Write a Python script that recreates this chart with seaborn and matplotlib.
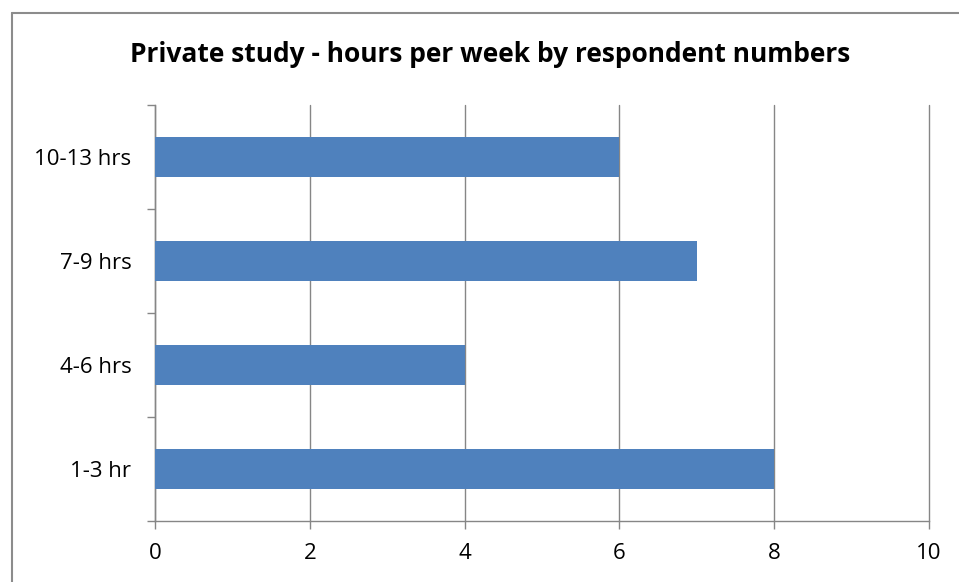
import matplotlib
matplotlib.use("Agg")
import matplotlib.pyplot as plt
import seaborn as sns
import pandas as pd
import numpy as np
from matplotlib.lines import Line2D

categories = ["10-13 hrs", "7-9 hrs", "4-6 hrs", "1-3 hr"]
values = [6, 7, 4, 8]
x_ticks = [0, 2, 4, 6, 8, 10]
title = "Private study - hours per week by respondent numbers"

sns.set_theme(style="white")
plt.rcParams['font.family'] = ['Open Sans', 'DejaVu Sans']

df = pd.DataFrame({"cat": categories, "val": values})

fig = plt.figure(figsize=(9.59, 5.82), dpi=100)
ax = fig.add_axes([155/959, 1-521/582, (929-155)/959, (521-105)/582])

grid_c = "#868686"
sns.barplot(data=df, x="val", y="cat", order=categories, color="#4F81BD",
            width=0.39, saturation=1, linewidth=0, ax=ax, zorder=3)
ax.set_xlim(0, 10)
ax.set_ylim(len(categories)-0.5, -0.5)
ax.set_xticks(x_ticks)
ax.set_xticklabels([str(t) for t in x_ticks])
ax.set_xlabel("")
ax.set_ylabel("")
ax.grid(axis="x", color=grid_c, linewidth=1, zorder=0)
for gl in ax.get_xgridlines():
    gl.set_clip_on(False)
ax.set_axisbelow(True)
for s in ["top", "right"]:
    ax.spines[s].set_visible(False)
for s in ["left", "bottom"]:
    ax.spines[s].set_color(grid_c)
    ax.spines[s].set_linewidth(1)

ax.set_yticks(np.arange(-0.5, len(categories), 1), minor=True)
ax.tick_params(axis="y", which="major", length=0, pad=17, labelsize=16, labelcolor="#000000")
ax.tick_params(axis="y", which="minor", length=6, color=grid_c, width=1, left=True)
ax.tick_params(axis="x", which="major", length=6, color=grid_c, width=1, bottom=True,
               pad=10, labelsize=16, labelcolor="#000000")

fig.text(490/959, 1-54/582, title, ha="center", va="center", fontsize=19, fontweight="bold", color="#000000")

bc = "#8c8c8c"
fig.add_artist(Line2D([11.5/959, 11.5/959], [0, 1-12.5/582], transform=fig.transFigure, color=bc, linewidth=1.5))
fig.add_artist(Line2D([11.5/959, 1], [1-12.5/582, 1-12.5/582], transform=fig.transFigure, color=bc, linewidth=1.5))

fig.savefig("out.png", dpi=100)
